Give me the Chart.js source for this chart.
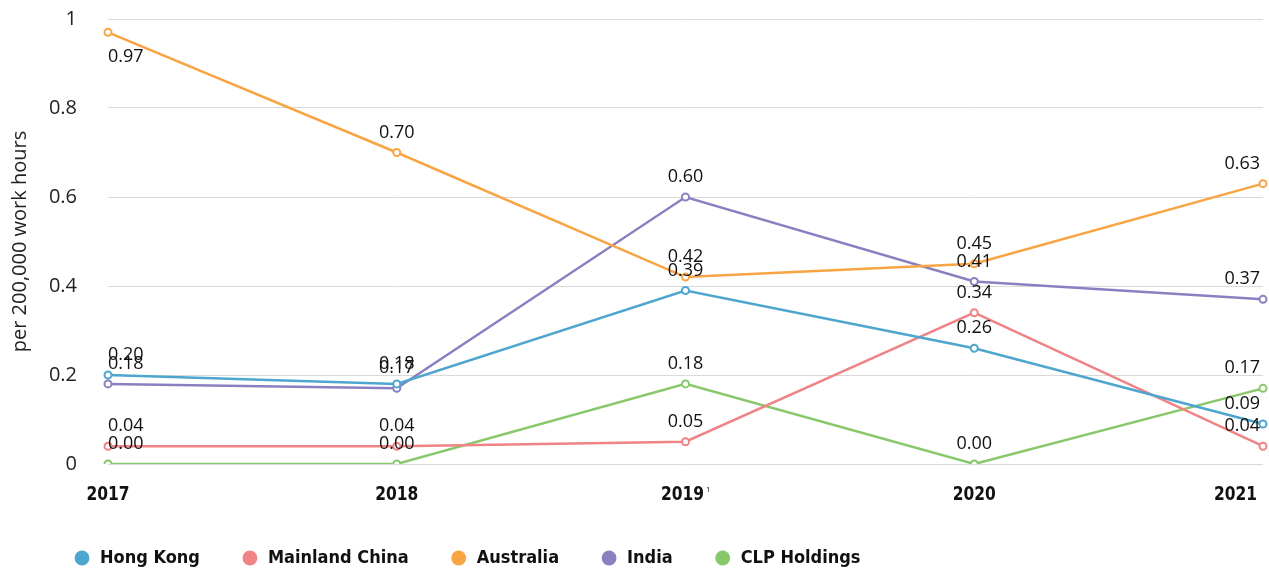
<!DOCTYPE html>
<html>
<head>
<meta charset="utf-8">
<title>Lost time injury rate</title>
<script src="https://cdn.jsdelivr.net/npm/chart.js@4.4.0/dist/chart.umd.min.js"></script>
<style>
  html, body { margin: 0; padding: 0; background: #fff; }
  #wrap { width: 1269px; height: 571px; }
</style>
</head>
<body>
<div id="wrap"><canvas id="ltiChart"></canvas></div>
<script>
// years on the x axis, with footnote markers
const years = ['2017', '2018', '2019', '2020', '2021'];
const yearNotes = ['', '', '1', '', ''];

// rates per 200,000 work hours
const hongKong = [0.20, 0.18, 0.39, 0.26, 0.09];
const mainlandChina = [0.04, 0.04, 0.05, 0.34, 0.04];
const australia = [0.97, 0.70, 0.42, 0.45, 0.63];
const india = [0.18, 0.17, 0.60, 0.41, 0.37];
const clpHoldings = [0.00, 0.00, 0.18, 0.00, 0.17];

const yTicks = [0, 0.2, 0.4, 0.6, 0.8, 1];

const labelFont = '"DejaVu Sans Condensed", "DejaVu Sans", sans-serif';

function series(label, data, color) {
    return {
        label: label,
        data: data,
        borderColor: color,
        backgroundColor: color,
        borderWidth: 2.5,
        pointRadius: 3.5,
        pointBorderWidth: 2,
        pointBackgroundColor: '#fff',
        pointBorderColor: color,
        tension: 0
    };
}

// value text over each point, kept inside the plot area
const valueLabels = {
    id: 'valueLabels',
    afterDatasetsDraw(chart) {
        const ctx = chart.ctx;
        const area = chart.chartArea;
        ctx.save();
        ctx.font = '18px "Open Sans"';
        ctx.fillStyle = '#111';
        ctx.textAlign = 'left';
        ctx.textBaseline = 'middle';
        chart.data.datasets.forEach((ds, i) => {
            chart.getDatasetMeta(i).data.forEach((pt, j) => {
                const text = ds.data[j].toFixed(2);
                const w = ctx.measureText(text).width;
                let x = pt.x - w / 2;
                x = Math.max(area.left, Math.min(x, area.right - 3 - w));
                let y = pt.y - 20;
                if (y - 9 < area.top) {
                    y = pt.y + 25;
                }
                ctx.fillText(text, x, y);
            });
        });
        ctx.restore();
    }
};

// bold condensed year labels under the axis, last one pulled in from the edge
const yearLabels = {
    id: 'yearLabels',
    afterDraw(chart) {
        const ctx = chart.ctx;
        const xs = chart.scales.x;
        const y = chart.chartArea.bottom + 31;
        const squeeze = 0.86;
        ctx.save();
        ctx.fillStyle = '#111';
        ctx.textBaseline = 'middle';
        ctx.textAlign = 'left';
        years.forEach((yr, i) => {
            ctx.font = 'bold 20px ' + labelFont;
            const w = ctx.measureText(yr).width * squeeze;
            const nw = yearNotes[i] ? 6 : 0;
            let left = xs.getPixelForValue(i) - (w + nw) / 2;
            left = Math.min(left, chart.width - 12 - w - nw);
            ctx.save();
            ctx.translate(left, y);
            ctx.scale(squeeze, 1);
            ctx.fillText(yr, 0, 0);
            ctx.restore();
            if (yearNotes[i]) {
                ctx.font = '8px "Open Sans"';
                ctx.fillText(yearNotes[i], left + w + 2, y - 5);
            }
        });
        ctx.restore();
    }
};

// nudge the legend row right and down
const legendOffset = {
    id: 'legendOffset',
    afterLayout(chart) {
        if (chart.legend) {
            chart.legend.left += 32;
            chart.legend.top += 6;
        }
    }
};

const ctx = document.getElementById('ltiChart').getContext('2d');
new Chart(ctx, {
    type: 'line',
    data: {
        labels: years,
        datasets: [
            series('Hong Kong', hongKong, '#4ea6cf'),
            series('Mainland China', mainlandChina, '#f08385'),
            series('Australia', australia, '#f8a443'),
            series('India', india, '#8a80c1'),
            series('CLP Holdings', clpHoldings, '#89c76b')
        ]
    },
    options: {
        responsive: true,
        maintainAspectRatio: false,
        animation: false,
        layout: {
            padding: { top: 0, right: 3, left: 0, bottom: 0 }
        },
        plugins: {
            legend: {
                position: 'bottom',
                align: 'start',
                labels: {
                    usePointStyle: true,
                    boxWidth: 18,
                    boxHeight: 10.5,
                    padding: 41,
                    color: '#111',
                    font: { family: labelFont, size: 18, weight: 'bold' },
                    generateLabels(chart) {
                        return chart.data.datasets.map((ds, i) => ({
                            text: ds.label,
                            fillStyle: ds.borderColor,
                            strokeStyle: ds.borderColor,
                            lineWidth: 0,
                            pointStyle: 'circle',
                            hidden: false,
                            datasetIndex: i,
                            fontColor: '#111'
                        }));
                    }
                }
            },
            tooltip: { enabled: false }
        },
        scales: {
            x: {
                grid: { display: false },
                border: { display: false },
                ticks: { display: false },
                afterFit(scale) { scale.height = 38; }
            },
            y: {
                min: 0,
                max: 1,
                afterBuildTicks(scale) {
                    scale.ticks = yTicks.map(v => ({ value: v }));
                },
                afterFit(scale) {
                    scale.width = 108;
                    scale.paddingTop = 19;
                    scale.paddingBottom = 0;
                },
                grid: { color: '#d9d9d9', lineWidth: 1, drawTicks: false },
                border: { display: false },
                ticks: {
                    padding: 31,
                    color: '#222',
                    font: { family: 'Open Sans', size: 20 },
                    callback: v => String(Number(v.toFixed(1)))
                },
                title: {
                    display: true,
                    text: 'per 200,000 work hours',
                    color: '#222',
                    font: { family: 'Open Sans', size: 20 },
                    padding: { top: 8, bottom: 0 }
                }
            }
        }
    },
    plugins: [valueLabels, yearLabels, legendOffset]
});
</script>
</body>
</html>
